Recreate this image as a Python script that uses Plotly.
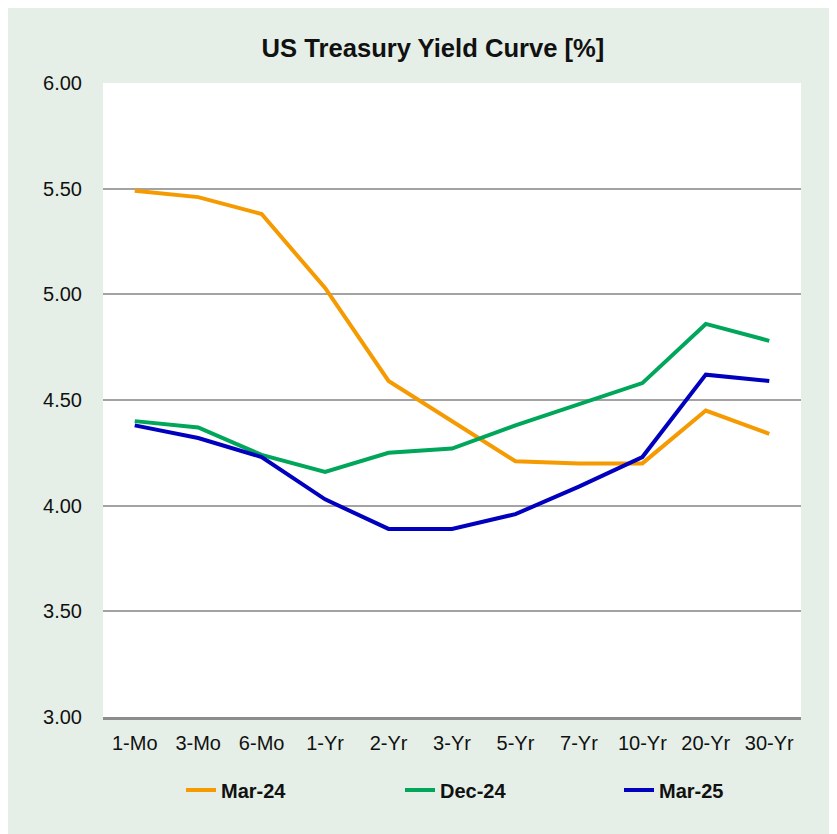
import plotly.graph_objects as go

categories = ["1-Mo", "3-Mo", "6-Mo", "1-Yr", "2-Yr", "3-Yr", "5-Yr", "7-Yr", "10-Yr", "20-Yr", "30-Yr"]
mar24 = [5.49, 5.46, 5.38, 5.03, 4.59, 4.40, 4.21, 4.20, 4.20, 4.45, 4.34]
dec24 = [4.40, 4.37, 4.24, 4.16, 4.25, 4.27, 4.38, 4.48, 4.58, 4.86, 4.78]
mar25 = [4.38, 4.32, 4.23, 4.03, 3.89, 3.89, 3.96, 4.09, 4.23, 4.62, 4.59]
series_names = ["Mar-24", "Dec-24", "Mar-25"]
series_colors = ["#F59A00", "#00A65A", "#0000BE"]
y_ticks = [3.0, 3.5, 4.0, 4.5, 5.0, 5.5, 6.0]

# page offset from the default body margin of the html page
OFF = 8
W, H = 837, 834
L, T = 103 - OFF, 83 - OFF
R = W - (801 - OFF)
B = H - (717 - OFF)
pw, ph = W - L - R, H - T - B

def px_x(p):
    return (p - OFF - L) / pw

def px_y(p):
    return (H - B - (p - OFF)) / ph

fig = go.Figure()
for name, vals, col in zip(series_names, [mar24, dec24, mar25], series_colors):
    fig.add_trace(go.Scatter(x=categories, y=vals, name=name, mode="lines",
                             line=dict(color=col, width=4)))

bg = "#E5EFE7"
fig.update_layout(
    width=W, height=H,
    margin=dict(l=L, r=R, t=T, b=B, autoexpand=False),
    paper_bgcolor=bg,
    plot_bgcolor="white",
    font=dict(family="Liberation Sans, Arial, sans-serif", size=20, color="#111111"),
    title=dict(text="<b>US Treasury Yield Curve [%]</b>", x=(433 - OFF) / W, xref="container",
               xanchor="center", y=1 - (48 - OFF) / H, yref="container", yanchor="middle",
               font=dict(size=25.6, color="#111111")),
    showlegend=True,
    legend=dict(orientation="h", x=px_x(181), xanchor="left", y=px_y(790), yanchor="middle",
                entrywidth=174, entrywidthmode="pixels",
                font=dict(size=20, color="#111111", weight="bold"),
                bgcolor="rgba(0,0,0,0)", itemclick=False),
    xaxis=dict(type="category", showgrid=False, showline=True, linecolor="#8C8C8C", linewidth=3,
               ticks="outside", ticklen=6, tickcolor="rgba(0,0,0,0)", tickfont=dict(size=20),
               range=[-0.5, len(categories) - 0.5]),
    yaxis=dict(range=[3, 6], tickvals=y_ticks, tickformat=".2f", showgrid=True,
               gridcolor="#A3A3A3", gridwidth=1.5, zeroline=False, showline=False,
               ticks="outside", ticklen=16, tickcolor="rgba(0,0,0,0)", tickfont=dict(size=20)),
)

fig.write_html("out.html")
